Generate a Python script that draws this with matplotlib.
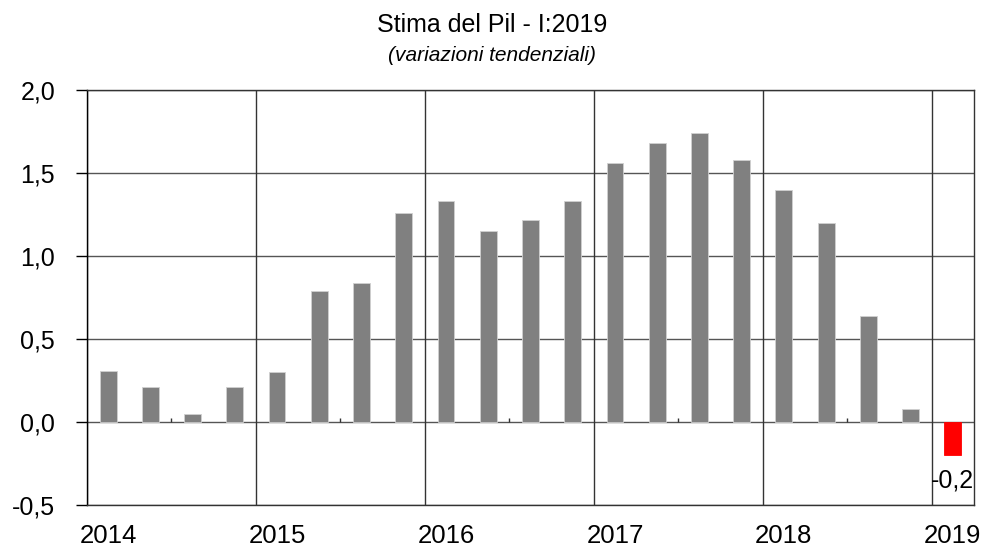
#!/usr/bin/env python3

import numpy as np
import matplotlib
matplotlib.use("Agg")
import matplotlib.pyplot as plt
from matplotlib.ticker import FuncFormatter

# quarterly GDP, year-on-year change (2014 Q1 .. 2019 Q1)
quarters = ["I-14", "II-14", "III-14", "IV-14",
            "I-15", "II-15", "III-15", "IV-15",
            "I-16", "II-16", "III-16", "IV-16",
            "I-17", "II-17", "III-17", "IV-17",
            "I-18", "II-18", "III-18", "IV-18",
            "I-19"]
values = [0.31, 0.21, 0.05, 0.21,
          0.30, 0.79, 0.84, 1.26,
          1.33, 1.15, 1.22, 1.33,
          1.56, 1.68, 1.74, 1.58,
          1.40, 1.20, 0.64, 0.08,
          -0.20]
years = ["2014", "2015", "2016", "2017", "2018", "2019"]
y_ticks = [-0.5, 0.0, 0.5, 1.0, 1.5, 2.0]


def main():
    plt.rcParams['font.family'] = ['Liberation Sans', 'DejaVu Sans']

    fig = plt.figure(figsize=(9.84, 5.49), dpi=100)
    ax = fig.add_axes([0.0884, 0.0801, 0.9014, 0.7559])

    x = np.arange(len(values))
    colors = ['#808080'] * (len(values) - 1) + ['#ff0000']
    edges = ['#d0d0d0'] * (len(values) - 1) + ['#ff0000']
    ax.bar(x, values, width=0.4, color=colors, edgecolor=edges,
           linewidth=0.6, zorder=3)

    # last value label
    ax.text(x[-1], values[-1] - 0.15, f"{values[-1]:.1f}".replace('.', ','),
            ha='center', va='center', fontsize=18, zorder=4)

    ax.set_xlim(-0.5, len(values) - 0.5)
    ax.set_ylim(y_ticks[0], y_ticks[-1])

    # horizontal grid
    for yv in y_ticks:
        ax.axhline(yv, color='#555555', lw=1.0, zorder=1)

    # year separators
    year_starts = np.arange(0, len(values), 4)
    for xs in year_starts:
        ax.axvline(xs - 0.5, color='#333333', lw=1.0, zorder=2)

    # small ticks on the zero line, mid year
    ax.vlines(year_starts[:-1] + 1.5, 0, 0.025, color='#333333', lw=1.0,
              zorder=2)

    ax.set_xticks(year_starts)
    ax.set_xticklabels(years)
    ax.tick_params(axis='x', length=0, pad=14, labelsize=18.5)

    ax.set_yticks(y_ticks)
    ax.yaxis.set_major_formatter(
        FuncFormatter(lambda v, p: f"{v:.1f}".replace('.', ',')))
    ax.tick_params(axis='y', length=8, width=1, direction='out', pad=15,
                   labelsize=18, color='black')

    for s in ax.spines.values():
        s.set_color('#333333')
        s.set_linewidth(1.0)
    ax.spines['left'].set_color('black')

    fig.text(0.5, 0.942, "Stima del Pil - I:2019", ha='center', va='baseline',
             fontsize=18)
    fig.text(0.5, 0.888, "(variazioni tendenziali)", ha='center',
             va='baseline', fontsize=15, style='italic')

    fig.savefig("out.png", dpi=100)


if __name__ == "__main__":
    main()
